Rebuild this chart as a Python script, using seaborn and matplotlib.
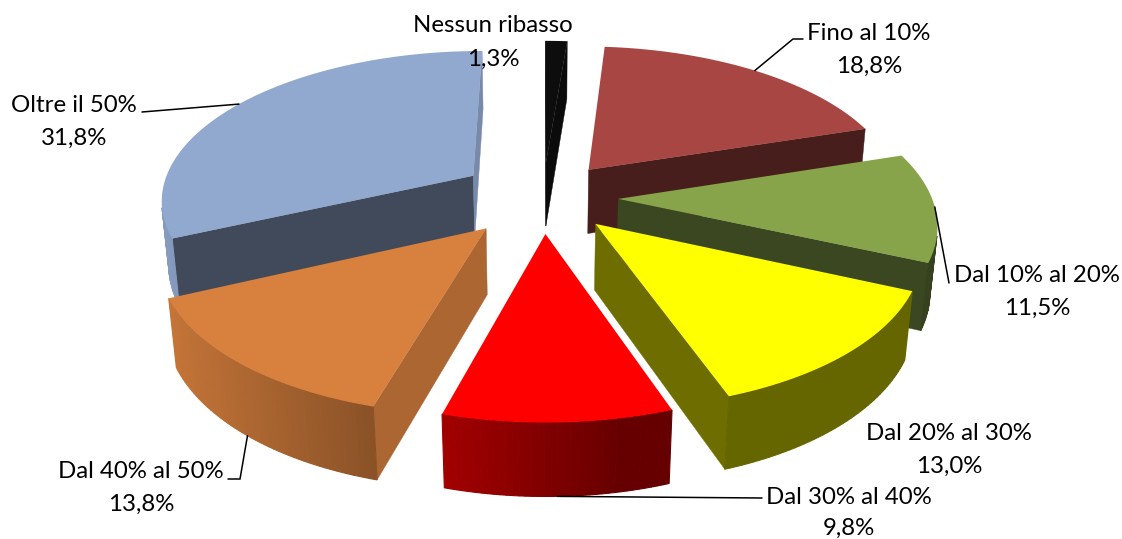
import numpy as np
import matplotlib
matplotlib.use("Agg")
import matplotlib.pyplot as plt
from matplotlib.colors import to_rgb
import seaborn as sns

# ---- data ----
categories = ["Nessun ribasso", "Fino al 10%", "Dal 10% al 20%", "Dal 20% al 30%",
              "Dal 30% al 40%", "Dal 40% al 50%", "Oltre il 50%"]
shares = [1.3, 18.8, 11.5, 13.0, 9.8, 13.8, 31.8]
slice_colors = ["#0d0d0d", "#a84644", "#87a44a", "#ffff00", "#ff0000", "#d8803d", "#91a8cf"]
explode = [0.24, 0.24, 0.24, 0.24, 0.24, 0.27, 0.27]

# label placement: (centre x, name y, value y) in figure pixels
label_pos = [(493, 26, 59), (869, 33, 66), (1037, 275, 308), (949, 433, 466),
             (849, 497, 528), (141, 471, 504), (74, 105, 138)]
# leader lines: extra points after the anchor on the slice
leader_tail = {1: [(793, 39), (803, 39)],
               2: [(949, 283)],
               4: [(762, 498)],
               5: [(240, 479), (228, 479)],
               6: [(142, 112)]}

sns.set_theme(style="white")
plt.rcParams["font.family"] = ["Lato", "DejaVu Sans"]

W, H = 1122, 539
fig = plt.figure(figsize=(W / 100, H / 100), dpi=100)
ax = fig.add_axes([0, 0, 1, 1])
ax.set_xlim(0, W)
ax.set_ylim(H, 0)
ax.axis("off")

# perspective camera looking down on the pie
ELEV = np.arcsin(0.475)
SIN_E, COS_E = np.sin(ELEV), np.cos(ELEV)
DIST = 6.0
FOCAL = 1880.0
CX, CY = 543.0, 197.0
THICK = 0.24
CAM = np.array([0.0, -DIST * COS_E, DIST * SIN_E])
DOWN = np.array([0.0, 0.0, -THICK])


def project(p):
    x, y, z = p
    d = DIST + y * COS_E - z * SIN_E
    return CX + FOCAL * x / d, CY - FOCAL * (y * SIN_E + z * COS_E) / d


def direction(theta):
    t = np.radians(theta)
    return np.array([np.sin(t), np.cos(t), 0.0])


RIM_LIGHT = np.array([-1.0, -0.2, 0.0])
RIM_LIGHT /= np.linalg.norm(RIM_LIGHT)


def rim_shade(n):
    return 0.4 + 0.52 * max(0.0, float(n @ RIM_LIGHT))


def cut_shade(n):
    return 0.43 + 0.65 * max(0.0, float(n[0]) - 0.4)


def tint(color, k):
    return tuple(min(1.0, c * k) for c in to_rgb(color))


def visible(n, p):
    return float(n @ (CAM - p)) > 0


def face(points, color, lw=0.0):
    xy = [project(p) for p in points]
    ax.fill([q[0] for q in xy], [q[1] for q in xy], facecolor=color,
            edgecolor=color, linewidth=lw, antialiased=True)


total = float(sum(shares))
bounds = np.concatenate([[0.0], np.cumsum(shares)]) / total * 360.0
mids = (bounds[:-1] + bounds[1:]) / 2
offsets = [explode[i] * direction(mids[i]) for i in range(len(shares))]


def draw_slice(i):
    a0, a1 = bounds[i], bounds[i + 1]
    base = slice_colors[i]
    apex = offsets[i]
    angs = np.linspace(a0, a1, max(2, int((a1 - a0) / 1.0) + 2))
    rim = [apex + direction(a) for a in angs]
    # radial cut faces
    for a, sign in ((a0, 1.0), (a1, -1.0)):
        d = direction(a)
        n = sign * np.array([-d[1], d[0], 0.0])
        centre = apex + 0.5 * d + 0.5 * DOWN
        if visible(n, centre):
            face([apex, apex + d, apex + d + DOWN, apex + DOWN], tint(base, cut_shade(n)), 0.3)
    # outer rim, in thin strips for shading
    for a, b, pa, pb in zip(angs[:-1], angs[1:], rim[:-1], rim[1:]):
        n = direction((a + b) / 2)
        centre = apex + n + 0.5 * DOWN
        if visible(n, centre):
            face([pa, pb, pb + DOWN, pa + DOWN], tint(base, rim_shade(n)), 0.8)
    # top
    face([apex] + rim, base, 0.0)


depth_key = [offsets[i][1] + 0.6 * np.cos(np.radians(mids[i])) for i in range(len(shares))]
for i in sorted(range(len(shares)), key=lambda k: -depth_key[k]):
    draw_slice(i)

# labels and leader lines
FS = 17.3
for i, (name, v) in enumerate(zip(categories, shares)):
    x, y1, y2 = label_pos[i]
    ax.text(x, y1, name, ha="center", va="center", fontsize=FS, color="black")
    ax.text(x, y2, f"{v:.1f}".replace(".", ",") + "%", ha="center", va="center",
            fontsize=FS, color="black")
    if i in leader_tail:
        d = direction(mids[i])
        # front slices are hooked at the bottom of the rim, the others on the top edge
        tip = offsets[i] + d + (DOWN if d[1] < -0.5 else 0.0)
        pts = [project(tip)] + leader_tail[i]
        ax.plot([p[0] for p in pts], [p[1] for p in pts], color="black", lw=1.1,
                solid_joinstyle="miter")

fig.savefig("out.png", dpi=100, facecolor="white")
